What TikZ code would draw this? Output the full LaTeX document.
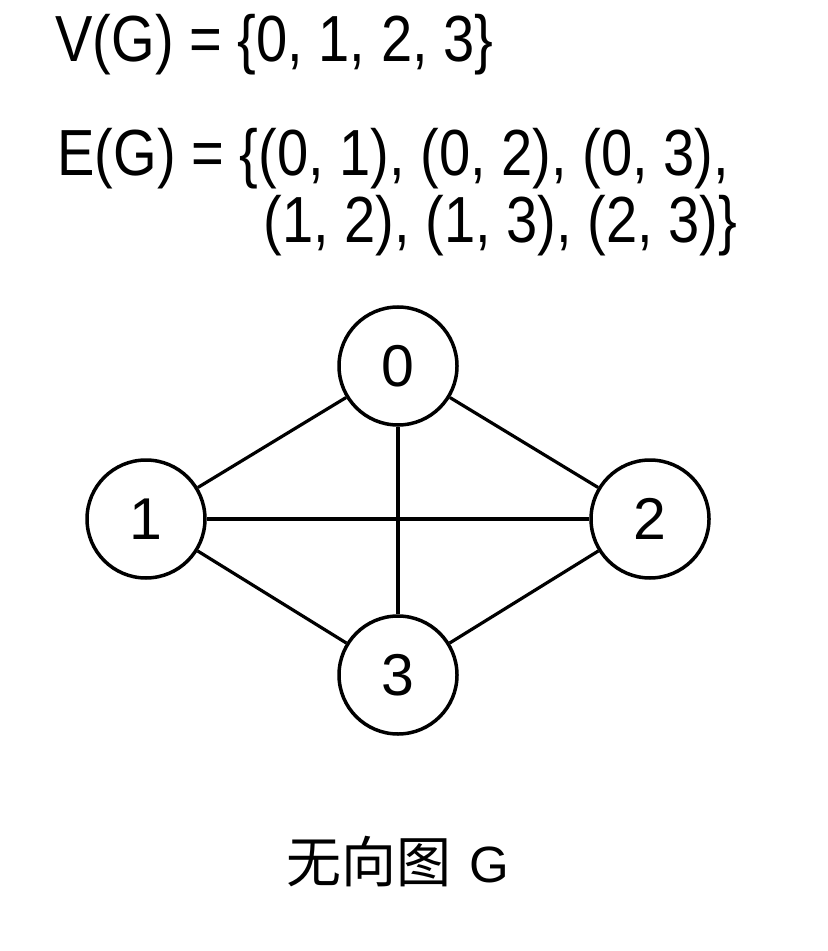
\documentclass[tikz,border=0pt]{standalone}
\usepackage{fontspec}
\setmainfont{Liberation Sans}[FakeStretch=0.86]
\newfontfamily\numfont{Liberation Sans}
\newfontfamily\cjk{Noto Sans CJK SC}
\usetikzlibrary{positioning}
\tikzset{vert/.style = {draw, circle, line width = 1.75pt, minimum size = 59pt,
                        inner sep = 0, font = \numfont\fontsize{29.5}{30}\selectfont}}
\tikzset{edge/.style = {line width = 1.6pt}}
\tikzset{set/.style = {anchor = base west, inner sep = 0,
                       font = \fontsize{32.6}{39}\selectfont}}

\begin{document}
\begin{tikzpicture}[x=0.5pt, y=-0.5pt]
    \useasboundingbox (0,0) rectangle (827,951);
    \node[set] (vset) at (55,62) {V(G) = \{0, 1, 2, 3\}};
    \node[set] (eset) at (57,176) {E(G) = \{(0, 1), (0, 2), (0, 3),};
    \node[set] (eset2) at (263,243) {(1, 2), (1, 3), (2, 3)\}};
    \node[vert] (v0) at (398,366) {0};
    \node[vert] (v1) at (146,519) {1};
    \node[vert] (v2) at (650,519) {2};
    \node[vert] (v3) at (398,675) {3};
    \foreach \a/\b in {0/1, 0/2, 0/3, 1/2, 1/3, 2/3} {
        \draw[edge] (v\a) -- (v\b); % undirected
    }
    \node[font = \cjk\fontsize{27.5}{30}\selectfont] (title) at (398,862)
        {无向图\hspace{9pt}{\numfont\fontsize{25.5}{30}\selectfont G}};
\end{tikzpicture}
\end{document}
